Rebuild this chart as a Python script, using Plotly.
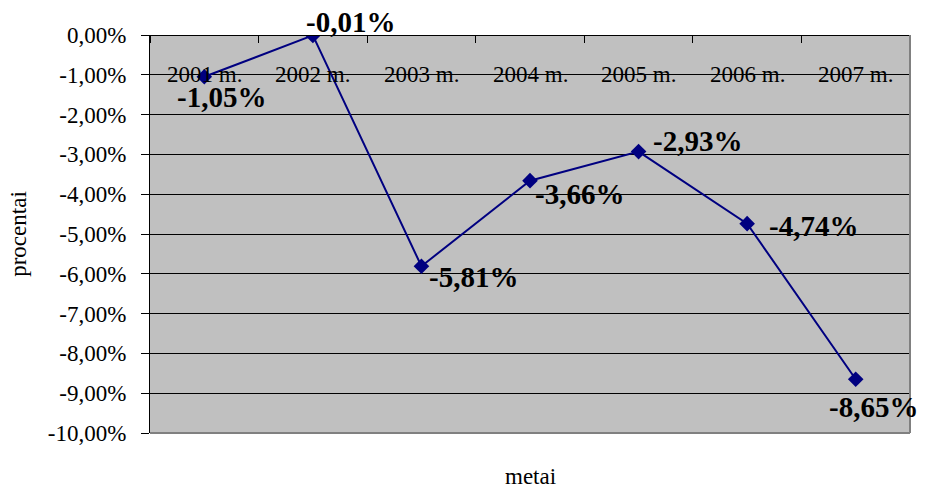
import plotly.graph_objects as go

categories = ["2001 m.", "2002 m.", "2003 m.", "2004 m.", "2005 m.", "2006 m.", "2007 m."]
values = [-0.0105, -0.0001, -0.0581, -0.0366, -0.0293, -0.0474, -0.0865]
value_labels = ["-1,05%", "-0,01%", "-5,81%", "-3,66%", "-2,93%", "-4,74%", "-8,65%"]
y_tickvals = [0, -0.01, -0.02, -0.03, -0.04, -0.05, -0.06, -0.07, -0.08, -0.09, -0.10]
y_ticktext = ["0,00%", "-1,00%", "-2,00%", "-3,00%", "-4,00%", "-5,00%", "-6,00%",
              "-7,00%", "-8,00%", "-9,00%", "-10,00%"]

# label offsets (pixels) relative to each point: style only
label_dx = [17, 38, 52, 49, 59, 66, 18]
label_dy = [-20, 13, -11, -13, 11, -2, -28]

FONT = "Times New Roman"

fig = go.Figure()
fig.add_trace(go.Scatter(
    x=categories, y=values, mode="lines+markers",
    line=dict(color="#000080", width=2),
    marker=dict(symbol="diamond", size=12, color="#000080"),
    hoverinfo="skip", showlegend=False,
))

annotations = []
for c, v, t, dx, dy in zip(categories, values, value_labels, label_dx, label_dy):
    annotations.append(dict(
        x=c, y=v, xref="x", yref="y", text=t, showarrow=False,
        xanchor="center", yanchor="middle", xshift=dx, yshift=dy,
        font=dict(family=FONT, size=29, color="black", weight="bold"),
    ))
# category labels drawn on the -1% level, as in the original
for c in categories:
    annotations.append(dict(
        x=c, y=-0.01, xref="x", yref="y", text=c, showarrow=False,
        xanchor="center", yanchor="middle",
        font=dict(family=FONT, size=23, color="black"),
    ))
annotations.append(dict(
    x=0.5, y=0, xref="paper", yref="paper", text="metai", showarrow=False,
    xanchor="center", yanchor="middle", yshift=-43,
    font=dict(family=FONT, size=23, color="black"),
))

fig.update_layout(
    width=931, height=486,
    margin=dict(l=150, r=21, t=35, b=53),
    paper_bgcolor="white", plot_bgcolor="#C0C0C0",
    font=dict(family=FONT, size=23, color="black"),
    annotations=annotations,
)

fig.update_xaxes(
    type="category", range=[-0.5, 6.5],
    side="bottom", anchor="free", position=1,
    showline=True, linecolor="black", linewidth=1,
    ticks="outside", ticklen=7, tickcolor="black", tickwidth=1,
    tickson="boundaries", showticklabels=False,
    showgrid=False, zeroline=False,
)
fig.update_yaxes(
    range=[-0.10, 0], tickvals=y_tickvals, ticktext=y_ticktext,
    showline=True, linecolor="black", linewidth=1,
    ticks="outside", ticklen=8, tickcolor="black", tickwidth=1,
    showgrid=True, gridcolor="black", gridwidth=1, zeroline=False,
    ticklabelstandoff=10,
    title=dict(text="procentai", font=dict(family=FONT, size=23), standoff=14),
    tickfont=dict(family=FONT, size=23),
)
# right and bottom grey edges of the plot area
fig.add_shape(type="line", xref="paper", yref="paper", x0=1, x1=1, y0=0, y1=1,
              line=dict(color="#808080", width=2))
fig.add_shape(type="line", xref="paper", yref="paper", x0=0, x1=1, y0=0, y1=0,
              line=dict(color="#808080", width=2))

fig.write_html("out.html")
